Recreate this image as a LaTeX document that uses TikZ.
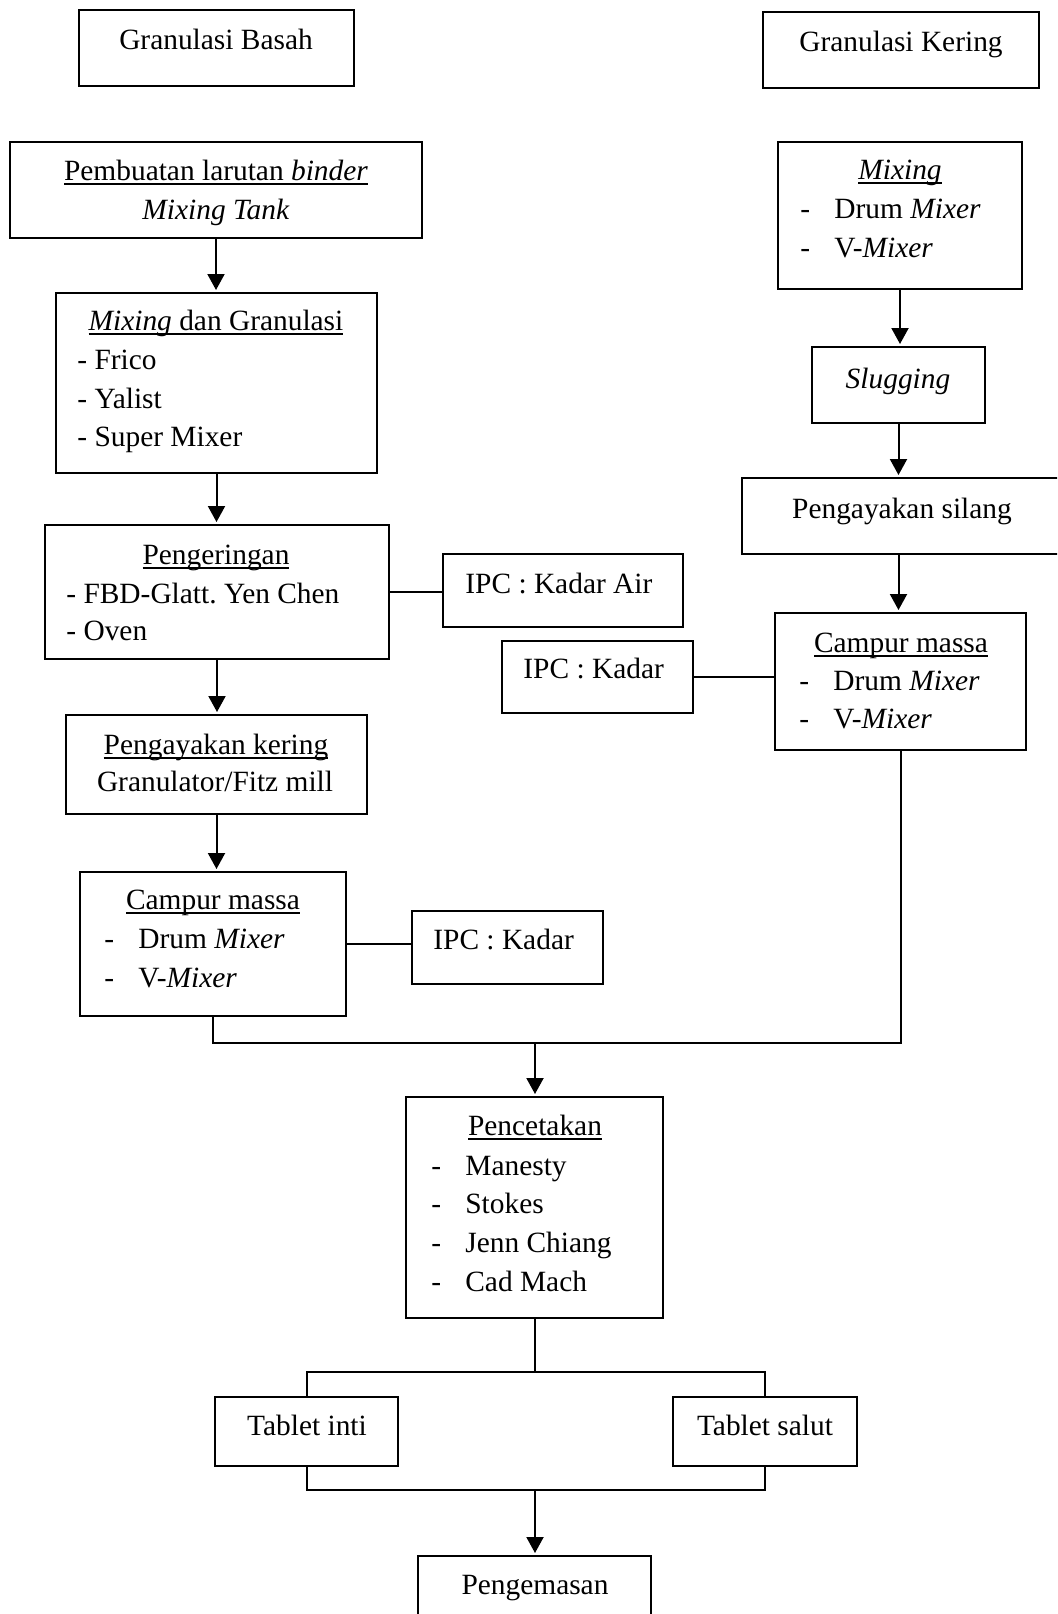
\documentclass[tikz,border=0pt]{standalone}
\usepackage{fontspec}
\setmainfont{Liberation Serif}
\usetikzlibrary{arrows.meta}
\frenchspacing

% underline that sits just under the baseline and crosses descenders
\newcommand\uln[1]{\setbox0\hbox{#1}\rlap{\rule[-2.4pt]{\wd0}{0.9pt}}\box0}
% list line: dash, tab, entry
\newcommand\dashitem[1]{\makebox[17pt][l]{-}#1}
% rectangle node given by its corners (x1,y1) and (x2,y2)
\newcommand\flowbox[5]{\node[flow, minimum width={(#4-#2)*0.5pt}, minimum height={(#5-#3)*0.5pt}] (#1) at ({(#2+#4)/2},{(#3+#5)/2}) {};}

\tikzset{
  flow/.style={draw, rectangle, line width=1pt, inner sep=0pt, outer sep=0pt},
  txt/.style={inner sep=0pt, anchor=base},
  ltxt/.style={inner sep=0pt, anchor=base west},
  link/.style={line width=1pt},
  arr/.style={link, -{Triangle[length=8pt,width=8.5pt]}, shorten >=1.5pt},
}

\begin{document}
\begin{tikzpicture}[x=0.5pt, y=-0.5pt,
  every node/.append style={font=\fontsize{14.7pt}{19.5pt}\selectfont}]
\clip (0,0) rectangle (1057,1614);
\fill[white] (0,0) rectangle (1057,1614);

% ---- headings
\flowbox{basah}{79}{10}{354}{86}
\flowbox{kering}{763}{12}{1039}{88}
\node[txt] (tbasah) at (216,49) {Granulasi Basah};
\node[txt] (tkering) at (901,51) {Granulasi Kering};

% ---- wet granulation column
\flowbox{binder}{10}{142}{422}{238}
\node[txt] (t1a) at (216,180) {\uln{Pembuatan larutan \textit{binder}}};
\node[txt] (t1b) at (216,219) {\textit{Mixing Tank}};

\flowbox{mixgr}{56}{293}{377}{473}
\node[txt] (t2a) at (216,330) {\uln{\textit{Mixing} dan Granulasi}};
\node[ltxt] (t2b) at (77,369) {- Frico};
\node[ltxt] (t2c) at (77,408) {- Yalist};
\node[ltxt] (t2d) at (77,446) {- Super Mixer};

\flowbox{kerin}{45}{525}{389}{659}
\node[txt] (t3a) at (216,564) {\uln{Pengeringan}};
\node[ltxt] (t3b) at (66,603) {- FBD-Glatt. Yen Chen};
\node[ltxt] (t3c) at (66,640) {- Oven};

\flowbox{ipcair}{443}{554}{683}{627}
\node[ltxt] (t4) at (465,593) {IPC : Kadar Air};

\flowbox{ayak}{66}{715}{367}{814}
\node[txt] (t5a) at (216,754) {\uln{Pengayakan kering}};
\node[txt] (t5b) at (215,791) {Granulator/Fitz mill};

\flowbox{campL}{80}{872}{346}{1016}
\node[txt] (t6a) at (213,909) {\uln{Campur massa}};
\node[ltxt] (t6b) at (104,948) {\dashitem{Drum \textit{Mixer}}};
\node[ltxt] (t6c) at (104,987) {\dashitem{V-\textit{Mixer}}};

\flowbox{ipcL}{412}{911}{603}{984}
\node[ltxt] (t7) at (433,949) {IPC : Kadar};

% ---- dry granulation column
\flowbox{mixR}{778}{142}{1022}{289}
\node[txt] (t8a) at (900,179) {\uln{\textit{Mixing}}};
\node[ltxt] (t8b) at (800,218) {\dashitem{Drum \textit{Mixer}}};
\node[ltxt] (t8c) at (800,257) {\dashitem{V-\textit{Mixer}}};

\flowbox{slug}{812}{347}{985}{423}
\node[txt] (t9) at (898,388) {\textit{Slugging}};

\flowbox{silang}{742}{478}{1062}{554}
\node[txt] (t10) at (902,518) {Pengayakan silang};

\flowbox{campR}{775}{613}{1026}{750}
\node[txt] (t11a) at (901,652) {\uln{Campur massa}};
\node[ltxt] (t11b) at (799,690) {\dashitem{Drum \textit{Mixer}}};
\node[ltxt] (t11c) at (799,728) {\dashitem{V-\textit{Mixer}}};

\flowbox{ipcR}{502}{641}{693}{713}
\node[ltxt] (t12) at (523,678) {IPC : Kadar};

% ---- common part
\flowbox{cetak}{406}{1097}{663}{1318}
\node[txt] (t13a) at (535,1135) {\uln{Pencetakan}};
\node[ltxt] (t13b) at (431,1175) {\dashitem{Manesty}};
\node[ltxt] (t13c) at (431,1213) {\dashitem{Stokes}};
\node[ltxt] (t13d) at (431,1252) {\dashitem{Jenn Chiang}};
\node[ltxt] (t13e) at (431,1291) {\dashitem{Cad Mach}};

\flowbox{inti}{215}{1397}{398}{1466}
\node[txt] (t14) at (307,1435) {Tablet inti};
\flowbox{salut}{673}{1397}{857}{1466}
\node[txt] (t15) at (765,1435) {Tablet salut};

\flowbox{kemas}{418}{1556}{651}{1640}
\node[txt] (t16) at (535,1594) {Pengemasan};

% ---- connectors, wet column
\draw[arr] (binder.south) -- (binder.south |- mixgr.north);
\draw[arr] (mixgr.south) -- (mixgr.south |- kerin.north);
\draw[link] (kerin.east) -- (kerin.east -| ipcair.west);
\draw[arr] (kerin.south) -- (kerin.south |- ayak.north);
\draw[arr] (ayak.south) -- (ayak.south |- campL.north);
\draw[link] (campL.east) -- (campL.east -| ipcL.west);

% ---- connectors, dry column
\draw[arr] (mixR.south) -- (mixR.south |- slug.north);
\draw[arr] (slug.south) -- (slug.south |- silang.north);
\draw[arr] (slug.south |- silang.south) -- (slug.south |- campR.north);
\draw[link] (ipcR.east) -- (ipcR.east -| campR.west);

% ---- both columns join into tabletting
\coordinate (join) at (535,1043);
\draw[link] (campL.south) -- (campL.south |- join) -- (campR.south |- join) -- (campR.south);
\draw[arr] (join) -- (join |- cetak.north);

% ---- split into core and coated tablets, then packaging
\coordinate (split) at (535,1372);
\coordinate (merge) at (535,1490);
\draw[link] (cetak.south) -- (cetak.south |- split);
\draw[link] (inti.north) -- (inti.north |- split) -- (salut.north |- split) -- (salut.north);
\draw[link] (inti.south) -- (inti.south |- merge) -- (salut.south |- merge) -- (salut.south);
\draw[arr] (merge) -- (merge |- kemas.north);
\end{tikzpicture}
\end{document}
